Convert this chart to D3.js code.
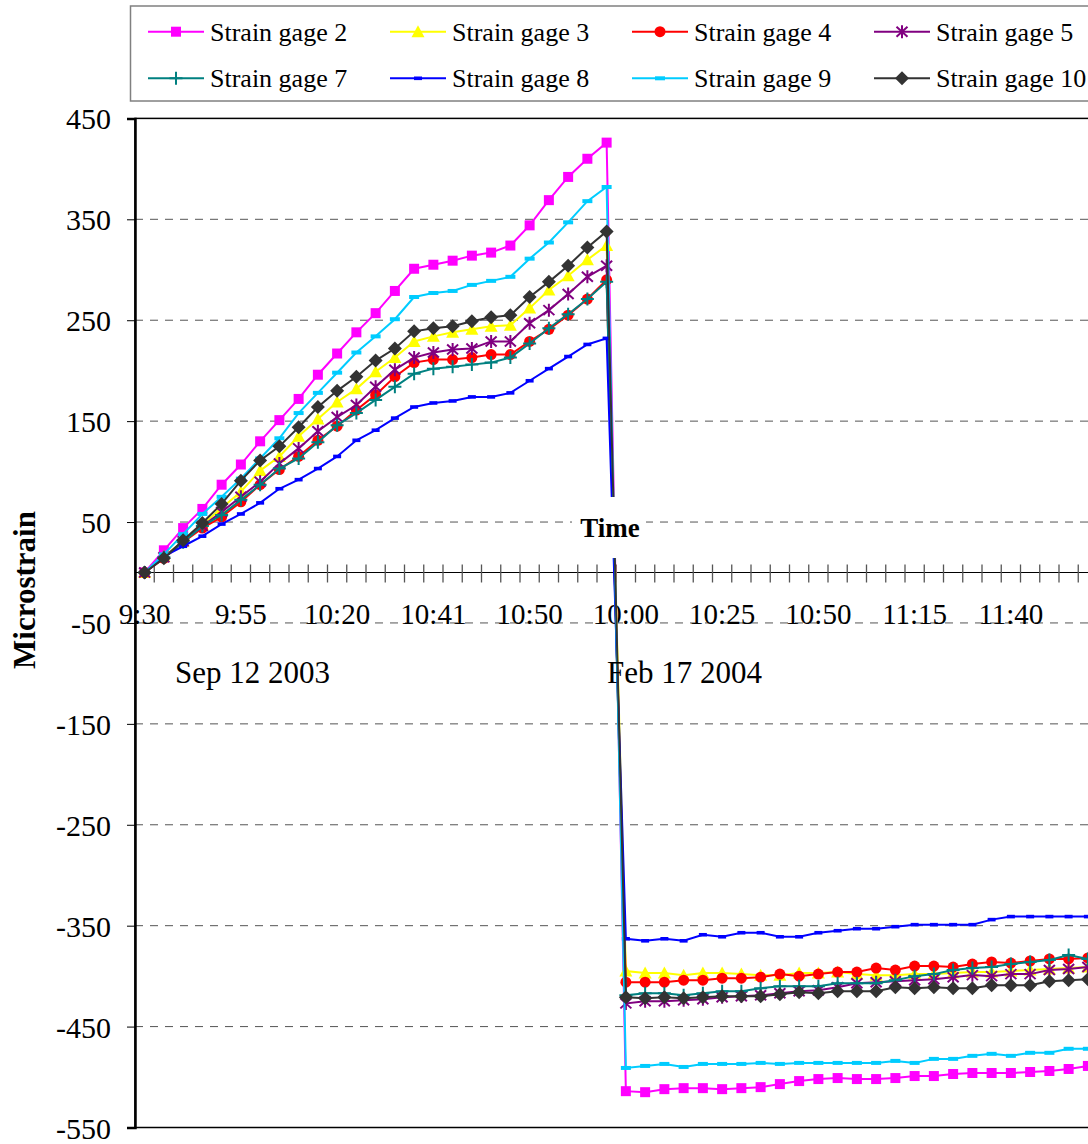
<!DOCTYPE html>
<html>
<head>
<meta charset="utf-8" />
<title>Microstrain vs Time</title>
<script src="https://cdn.jsdelivr.net/npm/d3@7/dist/d3.min.js"></script>
<style>
  body { margin: 0; background: #fff; }
  text { font-family: "Liberation Serif", "Times New Roman", serif; fill: #000; }
</style>
</head>
<body>
<script>
// categories: two test days on one category axis
var day1Times = ["9:30","9:35","9:40","9:45","9:50","9:55","10:00","10:05","10:10","10:15","10:20","10:25","10:29",
                 "10:33","10:37","10:41","10:43","10:45","10:47","10:48","10:50","10:52","10:54","10:56","10:58"];
var day2Times = ["10:00","10:05","10:10","10:15","10:20","10:25","10:30","10:35","10:40","10:45","10:50","10:55","11:00",
                 "11:05","11:10","11:15","11:20","11:25","11:30","11:35","11:40","11:45","11:50","11:55","12:00"];
var dayLabels = ["Sep 12 2003", "Feb 17 2004"];
var yTicks = [450, 350, 250, 150, 50, -50, -150, -250, -350, -450, -550];

var gage2 = [0, 22, 44, 63, 87, 107, 130, 151, 172, 196, 217, 238, 257, 279, 301, 305, 309, 314, 317, 324, 344, 369, 392, 410, 426,
  -514, -515, -512, -511, -511, -512, -511, -510, -507, -504, -502, -501, -502, -502, -501, -499, -499, -497, -496, -496, -496, -495, -494, -492, -489];
var gage3 = [0, 16, 31, 47, 64, 80, 101, 115, 135, 152, 169, 182, 199, 213, 229, 234, 238, 241, 244, 245, 262, 280, 294, 310, 324,
  -395, -397, -397, -399, -397, -397, -398, -399, -399, -397, -397, -396, -398, -399, -399, -398, -398, -397, -396, -396, -395, -394, -393, -392, -391];
var gage4 = [0, 14, 30, 44, 55, 70, 87, 102, 115, 131, 145, 161, 176, 194, 208, 211, 211, 213, 216, 216, 229, 241, 255, 271, 290,
  -406, -406, -406, -404, -404, -402, -402, -401, -398, -400, -398, -396, -396, -392, -394, -390, -390, -391, -388, -386, -387, -385, -383, -383, -382];
var gage5 = [0, 15, 31, 46, 60, 75, 90, 108, 123, 140, 154, 166, 184, 201, 213, 218, 221, 222, 229, 229, 247, 260, 276, 293, 304,
  -427, -425, -425, -424, -423, -421, -420, -419, -417, -415, -414, -411, -407, -406, -405, -404, -403, -401, -399, -400, -398, -398, -394, -393, -391];
var gage7 = [0, 15, 30, 46, 57, 72, 87, 103, 113, 129, 146, 158, 171, 184, 197, 202, 204, 206, 208, 213, 227, 242, 256, 271, 288,
  -419, -417, -417, -419, -417, -415, -415, -412, -410, -410, -410, -407, -407, -407, -404, -400, -398, -394, -392, -391, -388, -386, -384, -379, -383];
var gage8 = [0, 16, 26, 36, 48, 58, 69, 83, 92, 103, 115, 131, 141, 153, 164, 168, 170, 174, 174, 178, 190, 202, 214, 226, 232,
  -363, -365, -363, -365, -359, -361, -357, -357, -361, -361, -357, -355, -353, -353, -351, -349, -349, -349, -349, -344, -341, -341, -341, -341, -341];
var gage9 = [0, 18, 38, 58, 75, 93, 113, 133, 158, 178, 198, 218, 234, 251, 273, 277, 279, 285, 289, 293, 311, 327, 347, 368, 382,
  -491, -489, -487, -490, -487, -487, -487, -486, -487, -486, -486, -486, -486, -486, -484, -486, -482, -482, -479, -477, -479, -476, -476, -472, -472];
var gage10 = [0, 14, 32, 49, 68, 91, 111, 125, 144, 164, 180, 194, 210, 222, 239, 242, 244, 249, 253, 255, 273, 288, 304, 322, 338,
  -421, -422, -421, -422, -421, -420, -420, -420, -418, -416, -417, -415, -415, -415, -411, -412, -411, -412, -412, -409, -409, -409, -405, -404, -403];

var names = ["Strain gage 2", "Strain gage 3", "Strain gage 4", "Strain gage 5",
             "Strain gage 7", "Strain gage 8", "Strain gage 9", "Strain gage 10"];
var values = [gage2, gage3, gage4, gage5, gage7, gage8, gage9, gage10];

// styles
var colors = ["#ff00ff", "#ffff00", "#ff0000", "#800080", "#008080", "#0000ff", "#00ccff", "#333333"];
var markers = ["square", "triangle", "circle", "star", "plus", "smalldash", "dash", "diamond"];

var categories = day1Times.concat(day2Times);
var width = 1088, height = 1144;
var left = 135, step = 19.25;
var right = left + step * categories.length;

var svg = d3.select("body").append("svg").attr("width", width).attr("height", height);

var x = d3.scaleBand().domain(d3.range(categories.length)).range([left, right]).padding(0);
var xc = function(i) { return x(i) + x.bandwidth() / 2; };
var y = d3.scaleLinear().domain([-550, 450]).range([1127.5, 118.4]);

// gridlines
svg.append("g").selectAll("line").data(yTicks.slice(1, -1)).enter().append("line")
  .attr("x1", left).attr("x2", right)
  .attr("y1", function(d) { return y(d); }).attr("y2", function(d) { return y(d); })
  .attr("stroke", "#555").attr("stroke-width", 1).attr("stroke-dasharray", "8,7");

// plot border
svg.append("rect").attr("x", left).attr("y", y(450)).attr("width", right - left).attr("height", y(-550) - y(450))
  .attr("fill", "none").attr("stroke", "#000").attr("stroke-width", 1.5);

// y axis (plain hyphen minus like the original)
var yAxis = d3.axisLeft(y).tickValues(yTicks).tickSize(8).tickPadding(16)
  .tickFormat(function(d) { return String(d); });
var gy = svg.append("g").attr("transform", "translate(" + left + ",0)").call(yAxis);
gy.attr("font-family", null);
gy.select(".domain").attr("stroke-width", 2.5);
gy.selectAll("text").attr("font-size", "30px").attr("dy", "0.35em");

// x axis at zero
var y0 = y(0);
svg.append("line").attr("x1", left).attr("x2", right).attr("y1", y0).attr("y2", y0)
  .attr("stroke", "#000").attr("stroke-width", 1.2);
svg.append("g").selectAll("line").data(d3.range(1, categories.length)).enter().append("line")
  .attr("x1", function(i) { return x(i); }).attr("x2", function(i) { return x(i); })
  .attr("y1", y0 - 8).attr("y2", y0 + 10)
  .attr("stroke", "#555").attr("stroke-width", 1.3);
svg.append("g").selectAll("text").data(d3.range(0, categories.length, 5)).enter().append("text")
  .attr("x", function(i) { return xc(i); }).attr("y", y0 + 52)
  .attr("text-anchor", "middle").attr("font-size", "29px")
  .text(function(i) { return categories[i]; });

// marker shapes
function markerPath(type) {
  switch (type) {
    case "square": return "M-5,-5h10v10h-10z";
    case "triangle": return "M0,-6.5L6.5,5.5H-6.5Z";
    case "circle": return "M-5.5,0a5.5,5.5 0 1,0 11,0a5.5,5.5 0 1,0 -11,0Z";
    case "diamond": return "M0,-7L7,0L0,7L-7,0Z";
    case "star": return "M-5.5,-5L5.5,5M-5.5,5L5.5,-5M0,-6.5V6.5";
    case "plus": return "M-6.5,0H6.5M0,-6.5V6.5";
    case "smalldash": return "M-4,-1.8h8v3.6h-8z";
    case "dash": return "M-5,-2h10v4h-10z";
  }
}
function isStroked(type) { return type === "star" || type === "plus"; }

var line = d3.line().x(function(d, i) { return xc(i); }).y(function(d) { return y(d); });

var series = svg.append("g").selectAll("g").data(values).enter().append("g");
series.append("path")
  .attr("d", function(d) { return line(d); })
  .attr("fill", "none")
  .attr("stroke", function(d, k) { return colors[k]; })
  .attr("stroke-width", 2);
series.each(function(d, k) {
  var type = markers[k];
  d3.select(this).selectAll("path.m").data(d).enter().append("path")
    .attr("class", "m")
    .attr("d", markerPath(type))
    .attr("transform", function(v, i) { return "translate(" + xc(i) + "," + y(v) + ")"; })
    .attr("fill", isStroked(type) ? "none" : colors[k])
    .attr("stroke", isStroked(type) ? colors[k] : "none")
    .attr("stroke-width", 2);
});

// axis title "Time" with white box
svg.append("rect").attr("x", 572).attr("y", 497).attr("width", 74).attr("height", 61).attr("fill", "#fff");
svg.append("text").attr("x", 610).attr("y", 537).attr("text-anchor", "middle")
  .attr("font-size", "27px").attr("font-weight", "bold").text("Time");

// day labels
svg.append("text").attr("x", 175).attr("y", 683).attr("font-size", "31px").text(dayLabels[0]);
svg.append("text").attr("x", 607).attr("y", 683).attr("font-size", "31px").text(dayLabels[1]);

// y axis title
svg.append("text").attr("transform", "translate(35,590) rotate(-90)")
  .attr("text-anchor", "middle").attr("font-size", "31px").attr("font-weight", "bold").text("Microstrain");

// legend
var legend = svg.append("g");
legend.append("rect").attr("x", 130.5).attr("y", 6).attr("width", 1000).attr("height", 95)
  .attr("fill", "#fff").attr("stroke", "#808080").attr("stroke-width", 1.5);
var items = legend.selectAll("g.item").data(names).enter().append("g").attr("class", "item")
  .attr("transform", function(d, k) { return "translate(" + (148 + 242 * (k % 4)) + "," + (k < 4 ? 31.7 : 78.3) + ")"; });
items.append("line").attr("x1", 0).attr("x2", 56).attr("y1", 0).attr("y2", 0)
  .attr("stroke", function(d, k) { return colors[k]; }).attr("stroke-width", 2);
items.append("path")
  .attr("d", function(d, k) { return markerPath(markers[k]); })
  .attr("transform", "translate(28,0)")
  .attr("fill", function(d, k) { return isStroked(markers[k]) ? "none" : colors[k]; })
  .attr("stroke", function(d, k) { return isStroked(markers[k]) ? colors[k] : "none"; })
  .attr("stroke-width", 2);
items.append("text").attr("x", 62).attr("y", 9).attr("font-size", "26px").text(function(d) { return d; });
</script>
</body>
</html>
